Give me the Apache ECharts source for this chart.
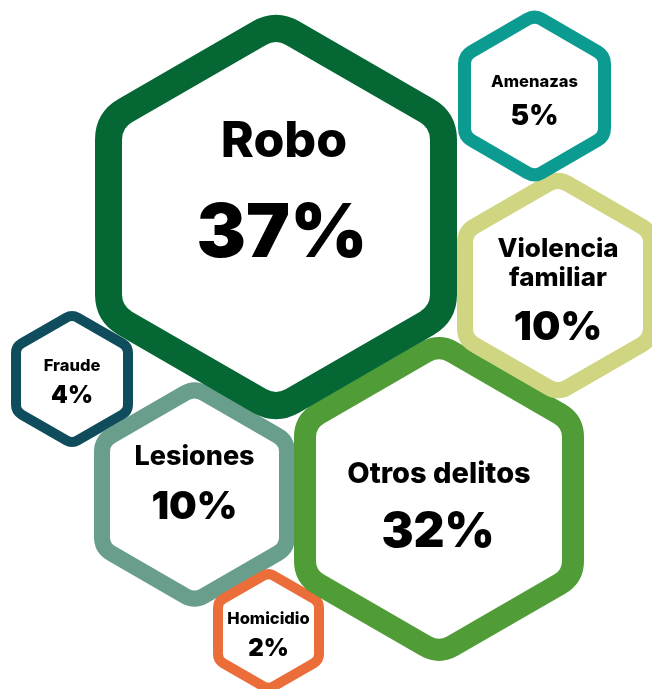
<!DOCTYPE html>
<html lang="es">
  <head>
    <meta charset="UTF-8" />
    <script src="https://cdn.jsdelivr.net/npm/echarts@6/dist/echarts.min.js"></script>
    <title>Delitos</title>
    <style>
      html, body { margin: 0; padding: 0; background: #fff; }
      #main { width: 652px; height: 689px; }
    </style>
  </head>
  <body>
    <div id="main"></div>
    <script>
      // data
      var categories = ["Fraude", "Lesiones", "Homicidio", "Otros delitos", "Violencia\nfamiliar", "Amenazas", "Robo"];
      var values = [4, 10, 2, 32, 10, 5, 37];

      // layout (pixel units of the hidden axes) and styles
      var centers = [[72, 379], [194.5, 494.5], [268.5, 631], [439, 499], [558, 285.5], [534.5, 96], [276, 217]];
      var widths = [122, 201, 111, 290, 202, 153, 362];
      var borders = [10, 16, 10, 22, 16, 13, 27];
      var colors = ["#0f4c5c", "#699e8d", "#eb6d3a", "#509c37", "#cfd581", "#0b9b91", "#056834"];
      var labelSizes = [16.5, 27, 16.5, 29, 26, 16.5, 50];
      var valueSizes = [24, 39, 24, 48, 40, 28, 74];
      var labelOffsets = [[0, -13], [0, -38], [0, -12], [0, -25], [0, -22], [0, -13.5], [8, -75.5]];
      var valueOffsets = [[0, 17], [0, 12.7], [0, 18], [-1, 34], [0, 42.5], [0, 20.5], [6, 18]];

      var FONT = "Inter, 'Noto Sans', sans-serif";

      function hexPath(cx, cy, R, t) {
        var pts = [];
        for (var k = 0; k < 6; k++) {
          var a = (Math.PI / 180) * (-90 + 60 * k);
          pts.push([cx + R * Math.cos(a), cy + R * Math.sin(a)]);
        }
        var d = "";
        for (var k = 0; k <= 6; k++) {
          var v = pts[k % 6], p = pts[(k + 5) % 6], n = pts[(k + 1) % 6];
          var pin = [v[0] + (p[0] - v[0]) * t, v[1] + (p[1] - v[1]) * t];
          var pout = [v[0] + (n[0] - v[0]) * t, v[1] + (n[1] - v[1]) * t];
          if (k === 0) {
            d += "M" + pout[0] + " " + pout[1];
          } else {
            d += "L" + pin[0] + " " + pin[1] + "Q" + v[0] + " " + v[1] + " " + pout[0] + " " + pout[1];
          }
        }
        return d + "Z";
      }

      function renderItem(params, api) {
        var i = params.dataIndex;
        var c = api.coord([api.value(0), api.value(1)]);
        var w = api.size([api.value(2), 0])[0];
        var sw = borders[i];
        var R = ((w - sw) / 2) * 2 / Math.sqrt(3);
        return {
          type: "group",
          children: [
            {
              type: "path",
              shape: { pathData: hexPath(c[0], c[1], R, 0.1) },
              style: { fill: "#fff", stroke: colors[i], lineWidth: sw, lineJoin: "round" }
            },
            {
              type: "text",
              x: c[0] + labelOffsets[i][0],
              y: c[1] + labelOffsets[i][1],
              style: {
                text: categories[i],
                fill: "#000",
                fontFamily: FONT,
                fontWeight: 800,
                fontSize: labelSizes[i],
                lineHeight: 29,
                align: "center",
                verticalAlign: "middle"
              }
            },
            {
              type: "text",
              x: c[0] + valueOffsets[i][0],
              y: c[1] + valueOffsets[i][1],
              style: {
                text: api.value(3) + "%",
                fill: "#000",
                fontFamily: FONT,
                fontWeight: 900,
                fontSize: valueSizes[i],
                align: "center",
                verticalAlign: "middle"
              }
            }
          ]
        };
      }

      var chart = echarts.init(document.getElementById("main"));
      var option = {
        animation: false,
        grid: { left: 0, right: 0, top: 0, bottom: 0 },
        xAxis: { type: "value", min: 0, max: 652, show: false },
        yAxis: { type: "value", min: 0, max: 689, inverse: true, show: false },
        series: [
          {
            type: "custom",
            renderItem: renderItem,
            clip: true,
            data: categories.map(function (c, i) {
              return [centers[i][0], centers[i][1], widths[i], values[i]];
            })
          }
        ]
      };
      chart.setOption(option);
    </script>
  </body>
</html>
